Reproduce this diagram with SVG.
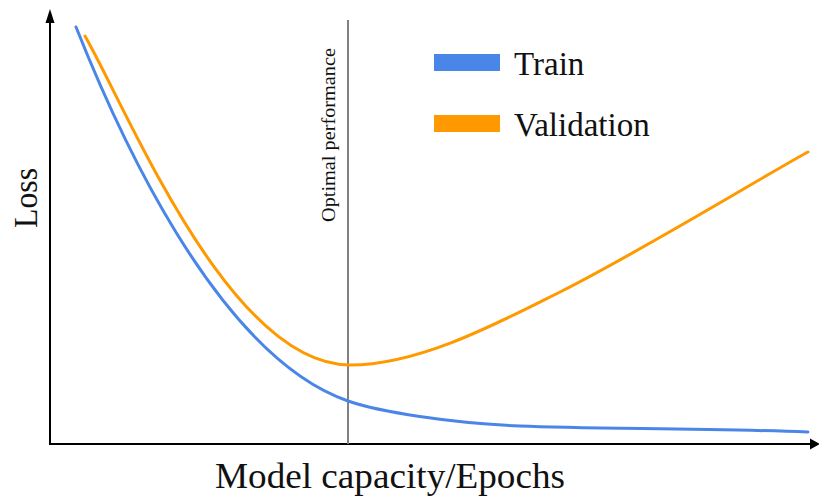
<svg xmlns="http://www.w3.org/2000/svg" width="819" height="499" viewBox="0 0 819 499">
<style>
.t{font-family:"Liberation Serif","Times New Roman",serif;fill:#111}
.curve{fill:none;stroke-width:3;stroke-linecap:round}
</style>
<rect width="819" height="499" fill="#fff"/>
<g id="axes">
<line x1="50" y1="444" x2="50" y2="20" stroke="#000" stroke-width="2"/>
<polygon points="50,9 45.5,23 54.5,23" fill="#000"/>
<line x1="49" y1="444" x2="812" y2="444" stroke="#000" stroke-width="2"/>
<polygon points="820,444 810,438.5 810,449.5" fill="#000"/>
</g>
<g id="optimal">
<line x1="348" y1="20" x2="348" y2="444" stroke="#808080" stroke-width="2"/>
<text class="t" transform="translate(335,135) rotate(-90)" text-anchor="middle" font-size="18" textLength="174" lengthAdjust="spacingAndGlyphs">Optimal performance</text>
</g>
<g id="train">
<path class="curve" stroke="#4A86E8" d="M76,27 C115,125 215,355 348,401 C380,412 450,423 520,426 C590,429 700,428 808,432"/>
</g>
<g id="validation">
<path class="curve" stroke="#FF9900" d="M85,36 C130,115 230,365 350,365 C420,365 500,322 560,292 C640,252 780,166.5 808,152"/>
</g>
<g id="legend">
<rect x="434" y="54" width="66" height="17" fill="#4A86E8"/>
<text class="t" x="514" y="75" font-size="33">Train</text>
<rect x="434" y="115" width="66" height="17" fill="#FF9900"/>
<text class="t" x="514" y="136" font-size="33">Validation</text>
</g>
<g id="labels">
<text class="t" transform="translate(37,198) rotate(-90)" text-anchor="middle" font-size="34" textLength="60" lengthAdjust="spacingAndGlyphs">Loss</text>
<text class="t" x="215" y="488" font-size="36" textLength="350" lengthAdjust="spacingAndGlyphs">Model capacity/Epochs</text>
</g>
</svg>
